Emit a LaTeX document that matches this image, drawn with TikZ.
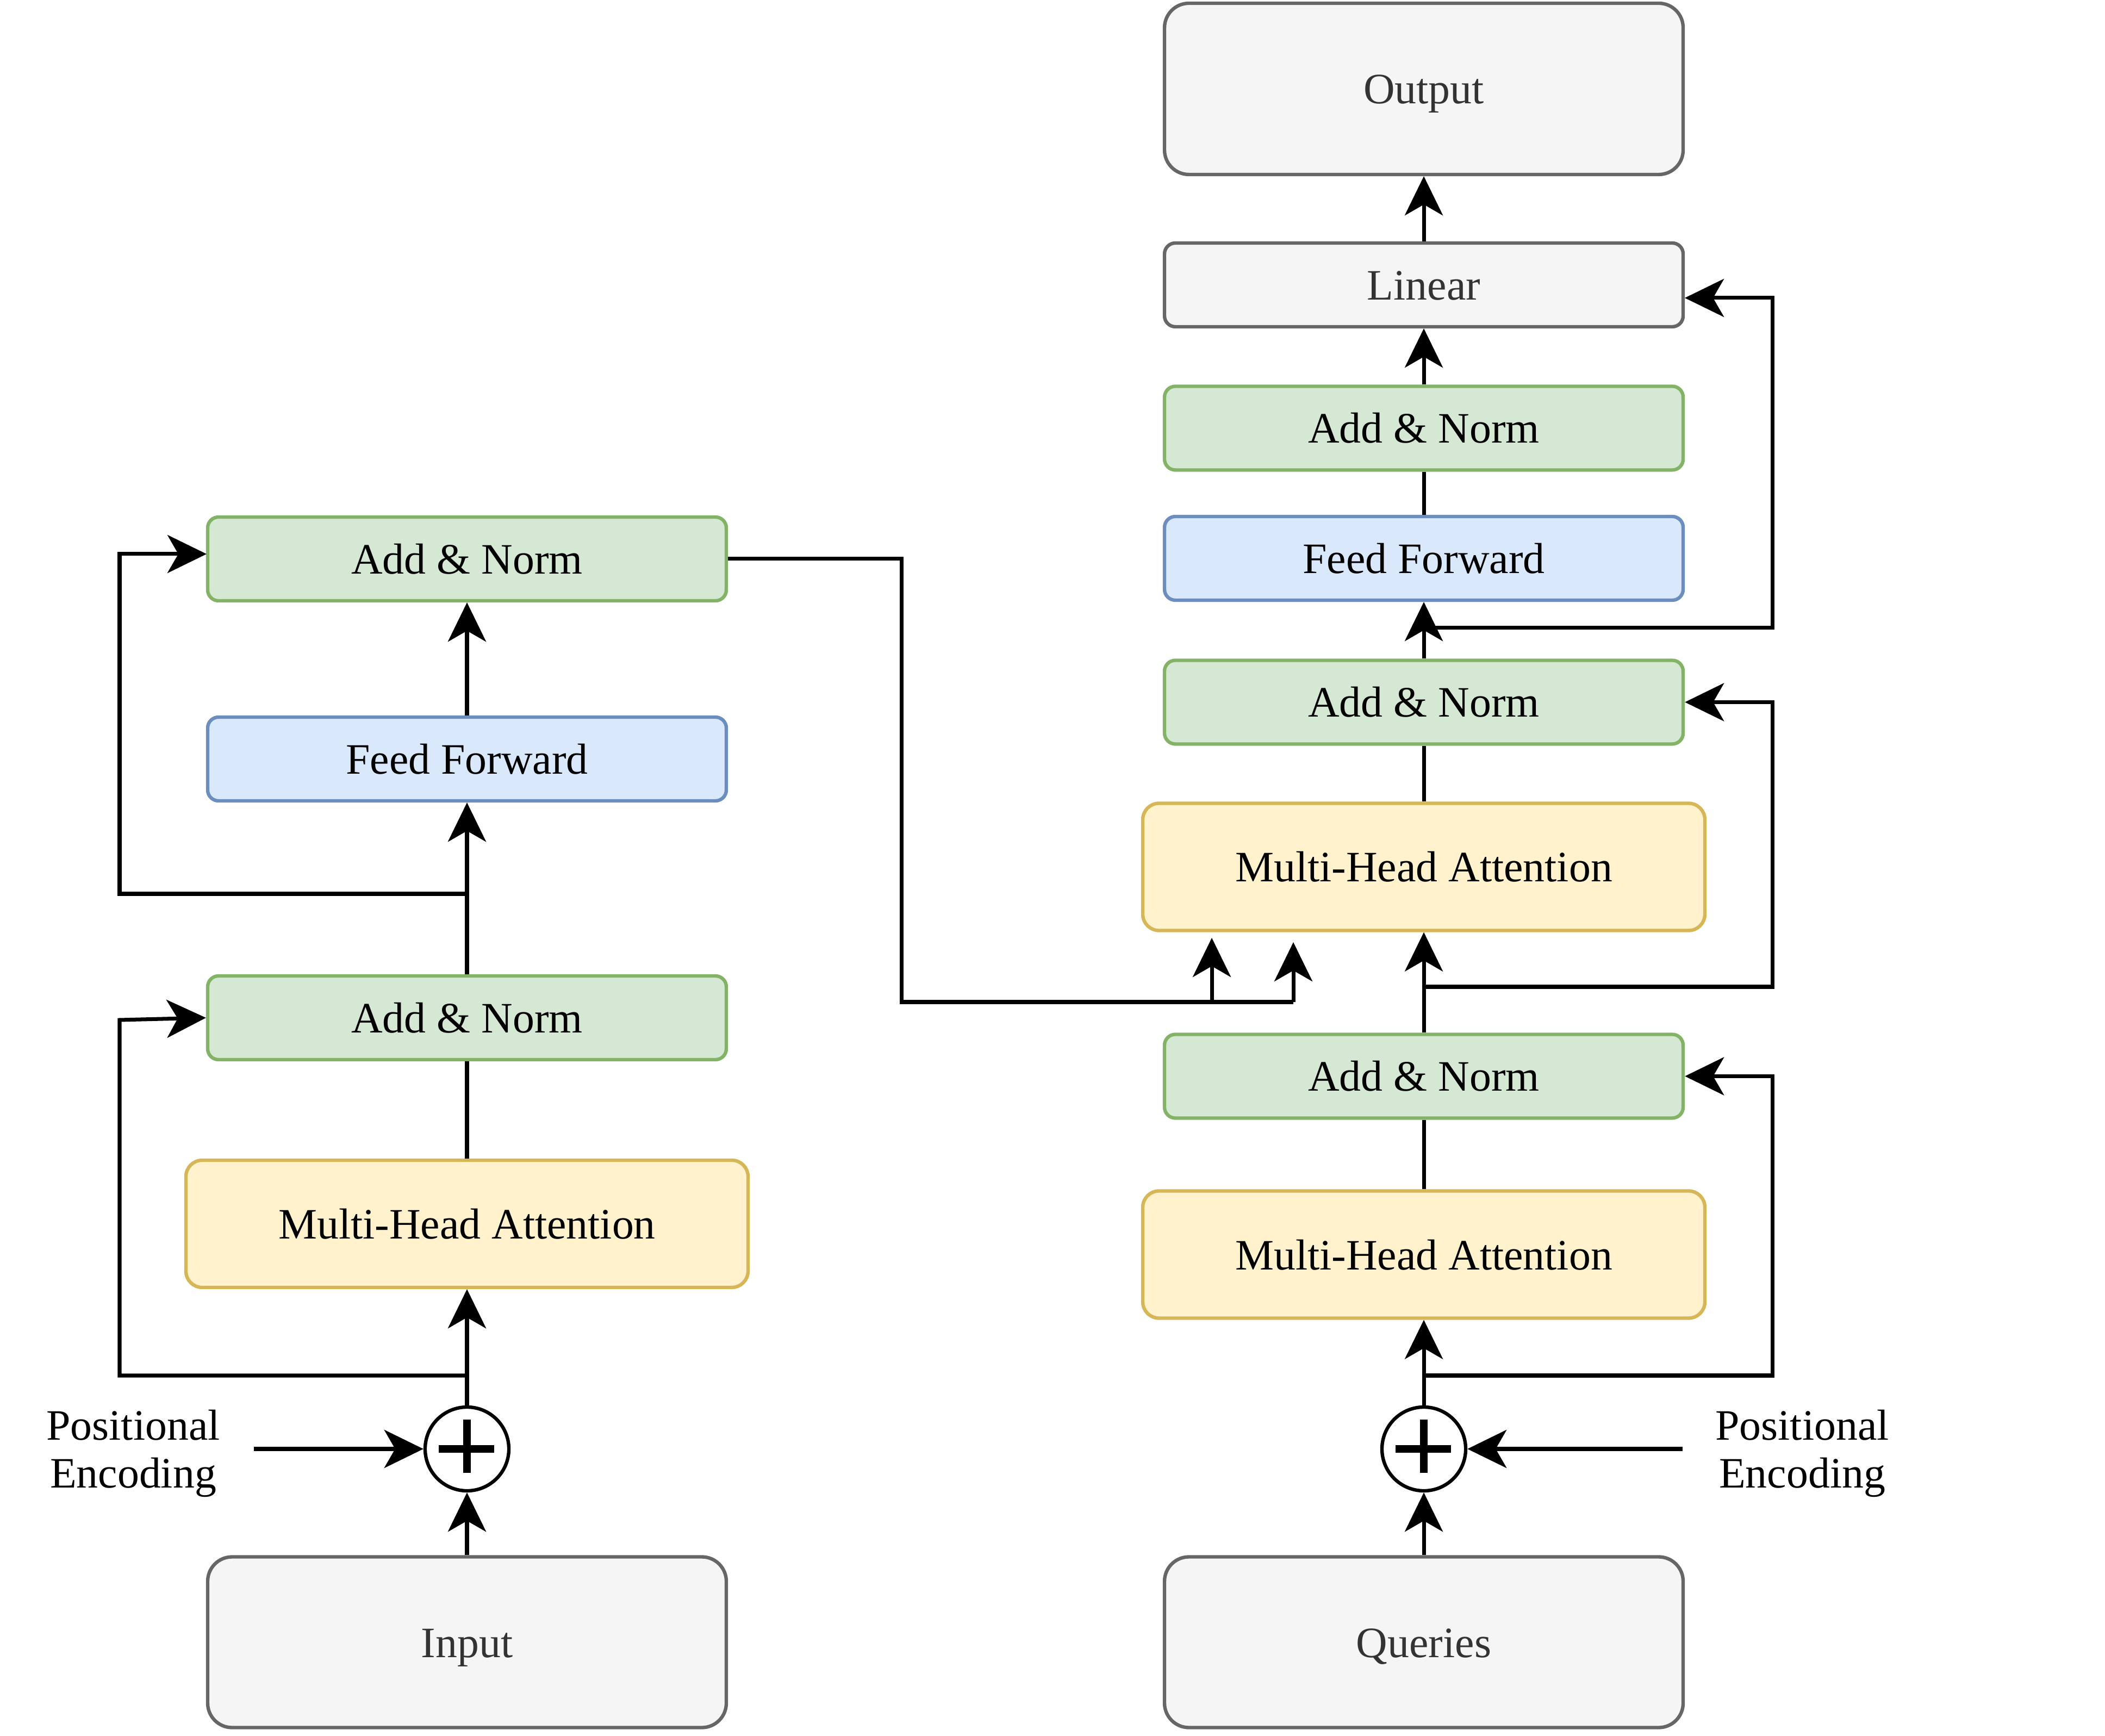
\documentclass[tikz,border=0pt]{standalone}
\usepackage{fontspec}
\setmainfont{Liberation Serif}
\usetikzlibrary{arrows.meta}

\definecolor{verdeF}{HTML}{D5E8D4}
\definecolor{verdeB}{HTML}{82B366}
\definecolor{azulF}{HTML}{DAE8FC}
\definecolor{azulB}{HTML}{6C8EBF}
\definecolor{amareloF}{HTML}{FFF2CC}
\definecolor{amareloB}{HTML}{D6B656}
\definecolor{cinzaF}{HTML}{F5F5F5}
\definecolor{cinzaB}{HTML}{666666}
\definecolor{cinzaT}{HTML}{333333}

\begin{document}
\begin{tikzpicture}[
	caixa/.style={draw, line width=1.8pt, rounded corners=0.2cm, inner sep=0pt, minimum width=9.54cm, minimum height=1.54cm, text height=0.55cm, text depth=0cm, font=\fontsize{22.7}{25}\selectfont},
	norma/.style={caixa, draw=verdeB, fill=verdeF},
	avanco/.style={caixa, draw=azulB, fill=azulF},
	atencao/.style={caixa, draw=amareloB, fill=amareloF, minimum width=10.34cm, minimum height=2.34cm, rounded corners=0.3cm},
	cinza/.style={caixa, draw=cinzaB, fill=cinzaF, text=cinzaT},
	grande/.style={cinza, minimum height=3.14cm, rounded corners=0.45cm},
	soma/.style={circle, draw, line width=1.8pt, minimum size=1.54cm, inner sep=0pt},
	rotulo/.style={align=center, inner sep=0pt, font=\fontsize{22.7}{25}\selectfont},
	seta/.style={-{Stealth[length=0.72cm, width=0.7cm, inset=0.2cm]}, line width=2pt},
	linha/.style={line width=2pt}
	] %Início do desenho e estilos
		\useasboundingbox (0,0) rectangle (38.72,31.92); %Tamanho da figura
			%Coluna da esquerda
		\node[grande] (entrada) at (8.59,1.715) {Input}; %Entrada
		\node[soma] (somaE) at (8.59,5.27) {}; %Soma da entrada
		\node[atencao] (atencaoE) at (8.59,9.41) {Multi-Head Attention}; %Atenção
		\node[norma] (normaE1) at (8.59,13.20) {Add \& Norm}; %Primeira normalização
		\node[avanco] (avancoE) at (8.59,17.96) {Feed Forward}; %Rede
		\node[norma] (normaE2) at (8.59,21.64) {Add \& Norm}; %Segunda normalização
		\node[rotulo] (posE) at (2.45,5.19) {Positional\\Encoding}; %Codificação
			%Coluna da direita
		\node[grande] (consultas) at (26.19,1.715) {Queries}; %Consultas
		\node[soma] (somaD) at (26.19,5.27) {}; %Soma das consultas
		\node[atencao] (atencaoD1) at (26.19,8.845) {Multi-Head Attention}; %Primeira atenção
		\node[norma] (normaD1) at (26.19,12.125) {Add \& Norm}; %Primeira normalização
		\node[atencao] (atencaoD2) at (26.19,15.975) {Multi-Head Attention}; %Segunda atenção
		\node[norma] (normaD2) at (26.19,19.005) {Add \& Norm}; %Segunda normalização
		\node[avanco] (avancoD) at (26.19,21.65) {Feed Forward}; %Rede
		\node[norma] (normaD3) at (26.19,24.045) {Add \& Norm}; %Terceira normalização
		\node[cinza] (linear) at (26.19,26.68) {Linear}; %Camada linear
		\node[grande, minimum height=3.15cm] (saida) at (26.19,30.285) {Output}; %Saída
		\node[rotulo] (posD) at (33.15,5.19) {Positional\\Encoding}; %Codificação
			%Sinais de soma
		\draw[line width=0.14cm] (somaE.center) ++(-0.52,0) -- ++(1.02,0); %Traço horizontal
		\draw[line width=0.14cm] (somaE.center) ++(0,-0.44) -- ++(0,0.98); %Traço vertical
		\draw[line width=0.14cm] (somaD.center) ++(-0.52,0) -- ++(1.02,0); %Traço horizontal
		\draw[line width=0.14cm] (somaD.center) ++(0,-0.44) -- ++(0,0.98); %Traço vertical
			%Pontos auxiliares
		\coordinate (rE1) at (8.59,6.62); %Desvio inferior esquerdo
		\coordinate (rE2) at (8.59,15.48); %Desvio superior esquerdo
		\coordinate (entN) at (3.80,21.73); %Entrada lateral da segunda normalização
		\coordinate (rD1) at (26.19,6.62); %Desvio da soma
		\coordinate (rD2) at (26.19,13.77); %Desvio da primeira normalização
		\coordinate (rD3) at (26.19,20.37); %Desvio da segunda normalização
		\coordinate (entL) at (30.99,26.44); %Entrada lateral da camada linear
		\coordinate (cruz) at (16.58,13.49); %Canto da ligação entre colunas
		\coordinate (baseK) at (22.29,13.49); %Base da primeira seta
		\coordinate (baseV) at (23.79,13.49); %Base da segunda seta
		\coordinate (pontaK) at (22.29,14.67); %Ponta da primeira seta
		\coordinate (pontaV) at (23.79,14.59); %Ponta da segunda seta
			%Setas da esquerda
		\draw[seta] (entrada) -- (somaE);
		\draw[seta] (posE.east |- somaE) ++(0.62,0) -- (somaE);
		\draw[seta] (somaE) -- (atencaoE);
		\draw[linha] (atencaoE) -- (normaE1);
		\draw[seta] (normaE1) -- (avancoE);
		\draw[seta] (avancoE) -- (normaE2);
		\draw[seta] (rE1) -- (2.20,6.62) -- (2.20,13.16) -- (normaE1.west); %Conexão residual
		\draw[seta] (rE2) -- (2.20,15.48) |- (entN); %Conexão residual
			%Ligação entre as colunas
		\draw[linha] (normaE2.east) -| (cruz) -- (baseV);
		\draw[seta] (baseK) -- (pontaK);
		\draw[seta] (baseV) -- (pontaV);
			%Setas da direita
		\draw[seta] (consultas) -- (somaD);
		\draw[seta] (posD.west |- somaD) ++(-0.6,0) -- (somaD);
		\draw[seta] (somaD) -- (atencaoD1);
		\draw[linha] (atencaoD1) -- (normaD1);
		\draw[seta] (normaD1) -- (atencaoD2);
		\draw[linha] (atencaoD2) -- (normaD2);
		\draw[seta] (normaD2) -- (avancoD);
		\draw[linha] (avancoD) -- (normaD3);
		\draw[seta] (normaD3) -- (linear);
		\draw[seta] (linear) -- (saida);
		\draw[seta] (rD1) -- (32.60,6.62) |- (normaD1.east); %Conexão residual
		\draw[seta] (rD2) -- (32.60,13.77) |- (normaD2.east); %Conexão residual
		\draw[seta] (rD3) -- (32.60,20.37) |- (entL); %Conexão residual
\end{tikzpicture}
\end{document}
